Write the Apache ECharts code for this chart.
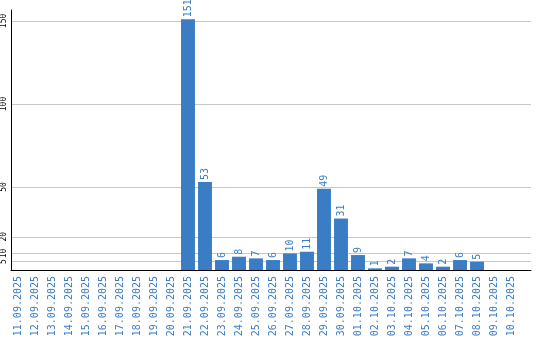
<!DOCTYPE html>
<html><head><meta charset="utf-8">
<script src="https://cdn.jsdelivr.net/npm/echarts@6/dist/echarts.min.js"></script>
<style>html,body{margin:0;padding:0;background:#fff}#c{width:540px;height:340px}</style>
</head><body><div id="c"></div>
<script>
var categories = ["11.09.2025","12.09.2025","13.09.2025","14.09.2025","15.09.2025","16.09.2025","17.09.2025","18.09.2025","19.09.2025","20.09.2025","21.09.2025","22.09.2025","23.09.2025","24.09.2025","25.09.2025","26.09.2025","27.09.2025","28.09.2025","29.09.2025","30.09.2025","01.10.2025","02.10.2025","03.10.2025","04.10.2025","05.10.2025","06.10.2025","07.10.2025","08.10.2025","09.10.2025","10.10.2025"];
var values = [0,0,0,0,0,0,0,0,0,0,151,53,6,8,7,6,10,11,49,31,9,1,2,7,4,2,6,5,0,0];
var yTicks = [5,10,20,50,100,150];

var BLUE = '#3b7dc4';
var YMAX = 156.6;
var chart = echarts.init(document.getElementById('c'), null, {renderer:'canvas'});
chart.setOption({
  animation: false,
  grid: [
    {left: 10, top: 10, width: 521, height: 260, containLabel: false},
    {left: 9.5, top: 10, width: 510, height: 260, containLabel: false}
  ],
  xAxis: [
    {gridIndex: 0, type: 'category', data: ['a'], axisLine: {show: true, lineStyle: {color: '#000', width: 1}},
     axisTick: {show: false}, axisLabel: {show: false}, splitLine: {show: false}, zlevel: 2},
    {gridIndex: 1, type: 'category', data: categories, axisLine: {show: false}, axisTick: {show: false},
     axisLabel: {interval: 0, rotate: 90, margin: 6, color: BLUE, fontSize: 10, fontFamily: 'DejaVu Sans Mono'}}
  ],
  yAxis: [
    {gridIndex: 0, type: 'value', min: 0, max: YMAX, axisLine: {show: true, lineStyle: {color: '#000', width: 1}},
     axisTick: {show: false}, splitLine: {show: false}, zlevel: 2,
     axisLabel: {customValues: yTicks, rotate: 90, margin: 3, color: '#000', fontSize: 8, fontFamily: 'DejaVu Sans Mono'}},
    {gridIndex: 1, type: 'value', min: 0, max: YMAX, show: false, splitLine: {show: false}}
  ],
  series: [
    {type: 'bar', xAxisIndex: 0, yAxisIndex: 0, data: [], silent: true, z: 0, zlevel: 0,
     markLine: {silent: true, symbol: 'none', label: {show: false}, animation: false, z: 0,
       lineStyle: {color: '#c8c8c8', type: 'solid', width: 1},
       data: yTicks.map(function(v){return {yAxis: v};})}},
    {type: 'bar', xAxisIndex: 1, yAxisIndex: 1, data: values, barCategoryGap: '18%', z: 10, zlevel: 1,
     itemStyle: {color: BLUE},
     label: {show: true, position: 'top', rotate: 90, align: 'left', verticalAlign: 'middle', distance: 2,
       color: BLUE, fontSize: 10, fontFamily: 'DejaVu Sans Mono',
       formatter: function(p){return p.value ? String(p.value) : '';}}}
  ]
});
</script></body></html>
